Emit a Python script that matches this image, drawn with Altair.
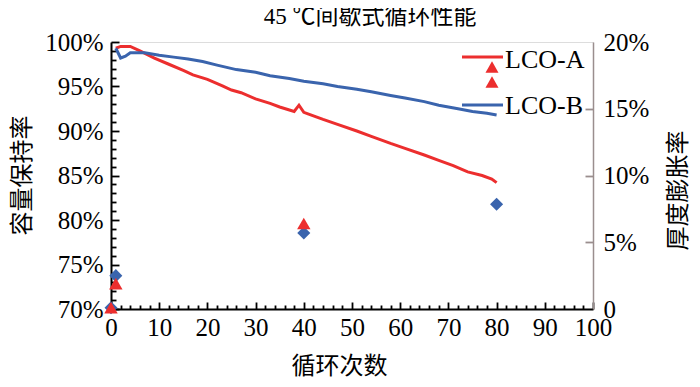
import altair as alt
import pandas as pd

# ---- data ----
cycles_a = [1, 2, 4, 6, 9, 12, 15, 17, 20, 23, 25, 27, 30, 33, 35, 38, 39, 40, 41,
            44, 47, 51, 54, 58, 61, 65, 68, 71, 74, 77, 79, 80]
capacity_a = [99.3, 99.5, 99.5, 99.0, 98.2, 97.5, 96.8, 96.3, 95.8, 95.1, 94.6, 94.3,
              93.6, 93.1, 92.7, 92.2, 92.9, 92.1, 91.9, 91.3, 90.75, 90.0, 89.4, 88.6,
              88.05, 87.3, 86.7, 86.1, 85.4, 85.0, 84.6, 84.2]
cycles_b = [1, 2, 3, 4, 7, 10, 13, 16, 19, 22, 26, 30, 33, 37, 40, 44, 47, 51, 54,
            58, 61, 65, 68, 72, 75, 78, 80]
capacity_b = [99.3, 98.2, 98.4, 98.8, 98.8, 98.5, 98.3, 98.1, 97.8, 97.4, 96.9, 96.6,
              96.2, 95.9, 95.6, 95.3, 95.0, 94.7, 94.4, 94.0, 93.7, 93.3, 92.9, 92.5,
              92.2, 92.0, 91.8]
swell_cycles_a = [0, 1, 40]
swell_a = [0.1, 1.9, 6.4]
swell_cycles_b = [0, 1, 40, 80]
swell_b = [0.1, 2.5, 5.7, 7.85]

x_major = list(range(0, 101, 10))
x_minor = [v for v in range(0, 101, 2) if v % 10]
yl_major = list(range(70, 101, 5))
yl_minor = [v for v in range(70, 101) if v % 5]
yr_values = [0, 5, 10, 15, 20]
yr_ticks = [5, 10, 15]

RED = "#ec2e2e"
BLUE = "#3a64ad"
FRAME = "#9a8e8e"
SERIF = "Liberation Serif, Noto Sans CJK SC"
CJK = "Noto Sans CJK SC"
W, H = 482, 267


def xs():
    return alt.Scale(domain=[0, 100], nice=False, zero=False)


def yls():
    return alt.Scale(domain=[70, 100], nice=False, zero=False)


def yrs():
    return alt.Scale(domain=[0, 20], nice=False, zero=False)


cap = pd.DataFrame({
    "cycle": cycles_a + cycles_b,
    "cap": capacity_a + capacity_b,
    "series": ["LCO-A"] * len(cycles_a) + ["LCO-B"] * len(cycles_b),
})
sw_a = pd.DataFrame({"cycle": swell_cycles_a, "sw": swell_a})
sw_b = pd.DataFrame({"cycle": swell_cycles_b, "sw": swell_b})

x_axis = alt.Axis(orient="bottom", values=x_major, ticks=False, tickSize=0,
                  labelFont=SERIF, labelFlush=False, labelOverlap=False,
                  labelFontSize=25, labelColor="black", labelPadding=6,
                  domainColor="black", domainWidth=2, grid=False,
                  title="循环次数", titleFont=CJK, titleFontSize=24,
                  titleFontWeight="normal", titleColor="black",
                  titleX=228, titleY=57, titleBaseline="middle", titleAlign="center")
yl_axis = alt.Axis(orient="left", values=yl_major, labelExpr="datum.value + '%'",
                   ticks=False, tickSize=0, labelFlush=False, labelOverlap=False,
                   labelFont=SERIF, labelFontSize=25, labelColor="black",
                   labelPadding=8, domainColor="black", domainWidth=2, grid=False,
                   title="容量保持率", titleFont=CJK, titleFontSize=24,
                   titleFontWeight="normal", titleColor="black", titleAngle=270,
                   titleX=-89, titleY=133, titleBaseline="middle", titleAlign="center")
yr_axis = alt.Axis(orient="right", values=yr_values,
                   labelExpr="datum.value == 0 ? '0' : datum.value + '%'",
                   ticks=False, tickSize=0, labelFlush=False, labelOverlap=False,
                   labelFont=SERIF, labelFontSize=25,
                   labelColor="black", labelPadding=10, domainColor=FRAME,
                   domainWidth=1.5, grid=False,
                   title="厚度膨胀率", titleFont=CJK, titleFontSize=24,
                   titleFontWeight="normal", titleColor="black", titleAngle=270,
                   titleX=85, titleY=148, titleBaseline="middle", titleAlign="center")


def tick_axis(orient, vals, length, offset, color="black"):
    # ticks-only axis, shifted inward so that its ticks point into the plot
    return alt.Axis(orient=orient, values=vals, labels=False, domain=False,
                    grid=False, ticks=True, tickSize=length, offset=offset,
                    tickColor=color, tickWidth=1.8, title="")


lines = alt.Chart(cap).mark_line(strokeWidth=3).encode(
    x=alt.X("cycle:Q", scale=xs(), axis=x_axis),
    y=alt.Y("cap:Q", scale=yls(), axis=yl_axis),
    color=alt.Color("series:N", scale=alt.Scale(domain=["LCO-A", "LCO-B"],
                                                range=[RED, BLUE]), legend=None),
)


def one(label):
    return pd.DataFrame({"t": [label]})


legend_parts = [
    alt.Chart(one("LCO-A")).mark_text(font=SERIF, fontSize=26, align="left",
                                      baseline="middle", color="black").encode(
        text="t:N", x=alt.value(394), y=alt.value(18)),
    alt.Chart(one("LCO-B")).mark_text(font=SERIF, fontSize=26, align="left",
                                      baseline="middle", color="black").encode(
        text="t:N", x=alt.value(394), y=alt.value(64)),
    alt.Chart(one("LCO-A")).mark_rule(color=RED, strokeWidth=3).encode(
        x=alt.value(351), x2=alt.value(392), y=alt.value(15)),
    alt.Chart(one("LCO-B")).mark_rule(color=BLUE, strokeWidth=3).encode(
        x=alt.value(351), x2=alt.value(392), y=alt.value(63)),
]
for yy in (25, 40):
    legend_parts.append(alt.Chart(one("LCO-A")).mark_point(
        shape="triangle-up", filled=True, size=170, color=RED, opacity=1).encode(
        x=alt.value(381), y=alt.value(yy)))

group_a = alt.layer(lines, *legend_parts)

pts_b = alt.Chart(sw_b).mark_point(shape="diamond", filled=True, size=170,
                                   color=BLUE, opacity=1).encode(
    x=alt.X("cycle:Q", scale=xs(), axis=None),
    y=alt.Y("sw:Q", scale=yrs(), axis=yr_axis))
pts_a = alt.Chart(sw_a).mark_point(shape="triangle-up", filled=True, size=180,
                                   color=RED, opacity=1).encode(
    x=alt.X("cycle:Q", scale=xs(), axis=None),
    y=alt.Y("sw:Q", scale=yrs(), axis=yr_axis))
group_c = alt.layer(pts_b, pts_a)


def tick_group(xvals, xlen, yvals, ylen):
    gx = alt.Chart(pd.DataFrame({"xv": xvals})).mark_point(opacity=0).encode(
        x=alt.X("xv:Q", scale=xs(), axis=tick_axis("bottom", xvals, xlen, -xlen)))
    gy = alt.Chart(pd.DataFrame({"yv": yvals})).mark_point(opacity=0).encode(
        y=alt.Y("yv:Q", scale=yls(), axis=tick_axis("left", yvals, ylen, -ylen)))
    return alt.layer(gx, gy)


group_major = tick_group(x_major, 7, yl_major, 8)
group_minor = tick_group(x_minor, 4, yl_minor, 5)
# right-hand ticks: a left-oriented tick axis moved across to the right edge
group_right = alt.Chart(pd.DataFrame({"rv": yr_ticks})).mark_point(opacity=0).encode(
    y=alt.Y("rv:Q", scale=yrs(), axis=tick_axis("left", yr_ticks, 8, -W, FRAME)))

chart = alt.layer(group_a, group_c, group_major, group_minor, group_right).resolve_scale(
    x="independent", y="independent").properties(
    width=W, height=H,
    title=alt.TitleParams("45 ℃间歇式循环性能", font=SERIF, fontSize=23,
                          fontWeight="normal", color="black", anchor="middle",
                          dx=18, offset=1),
    padding={"left": 103, "top": 34, "right": 99, "bottom": 70},
    autosize=alt.AutoSizeParams(type="none"),
).configure_view(stroke=FRAME, strokeWidth=1.5).configure(background="white")

chart.save("out.html", embed_options={"renderer": "svg", "actions": False})
